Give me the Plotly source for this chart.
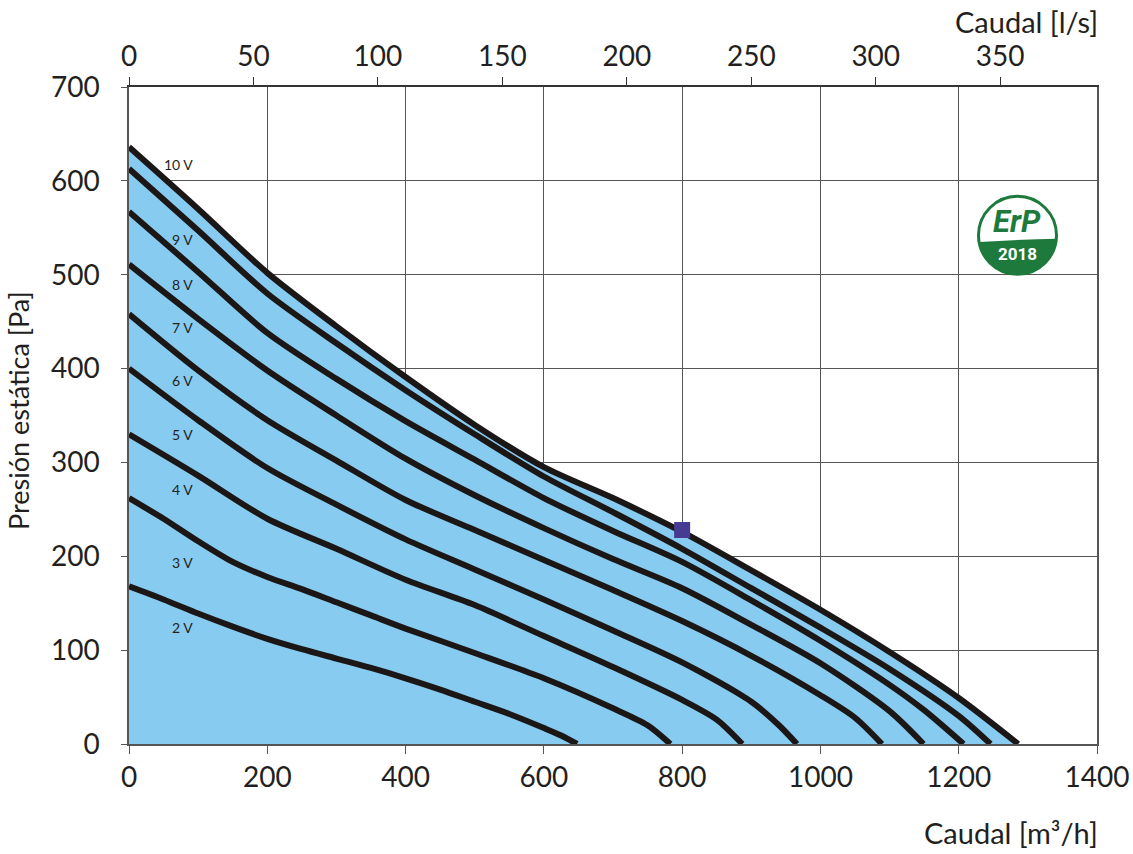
import math
import plotly.graph_objects as go

# caudal [m3/h] and presion estatica [Pa], one pair per control voltage
q_10v = [0, 100, 200, 300, 400, 500, 600, 700, 800, 900, 1000, 1100, 1200, 1286]
p_10v = [636, 570, 502, 445, 391, 340, 295, 262, 226, 185, 143, 98, 49, 0]

q_9v = [0, 100, 200, 300, 400, 500, 600, 700, 800, 900, 1000, 1100, 1200, 1246]
p_9v = [613, 547, 480, 427, 377, 330, 285, 247, 208, 166, 124, 80, 30, 0]

q_8v = [0, 100, 200, 300, 400, 500, 600, 700, 800, 900, 1000, 1100, 1150, 1207]
p_8v = [567, 503, 438, 389, 344, 303, 262, 227, 194, 153, 110, 63, 36, 0]

q_7v = [0, 100, 200, 300, 400, 500, 600, 700, 800, 900, 1000, 1100, 1149]
p_7v = [511, 453, 398, 350, 304, 265, 230, 197, 166, 127, 86, 35, 0]

q_6v = [0, 100, 200, 300, 400, 500, 600, 700, 800, 900, 1000, 1050, 1089]
p_6v = [458, 398, 345, 302, 260, 228, 196, 164, 131, 94, 52, 28, 0]

q_5v = [0, 100, 200, 300, 400, 500, 600, 700, 800, 900, 940, 966]
p_5v = [400, 345, 294, 255, 218, 186, 154, 121, 87, 45, 20, 0]

q_4v = [0, 100, 200, 300, 400, 500, 600, 700, 800, 850, 887]
p_4v = [330, 286, 240, 208, 175, 148, 115, 82, 47, 26, 0]

q_3v = [0, 50, 100, 150, 200, 250, 300, 350, 400, 500, 600, 700, 750, 783]
p_3v = [262, 240, 216, 194, 178, 165, 151, 137, 123, 97, 70, 38, 20, 0]

q_2v = [0, 50, 100, 150, 200, 250, 300, 350, 400, 450, 500, 550, 600, 625, 648]
p_2v = [168, 154, 139, 125, 112, 101, 91, 81, 70, 58, 45, 32, 17, 9, 0]

curve_names = ["10 V", "9 V", "8 V", "7 V", "6 V", "5 V", "4 V", "3 V", "2 V"]
curve_q = [q_10v, q_9v, q_8v, q_7v, q_6v, q_5v, q_4v, q_3v, q_2v]
curve_p = [p_10v, p_9v, p_8v, p_7v, p_6v, p_5v, p_4v, p_3v, p_2v]

# where each voltage label sits
label_q = [71, 78, 78, 78, 78, 78, 78, 78, 78]
label_p = [617, 537, 490, 444, 387, 330, 271, 193, 124]

# working point marker
point_q = [800]
point_p = [228]

x_ticks = [0, 200, 400, 600, 800, 1000, 1200, 1400]
y_ticks = [0, 100, 200, 300, 400, 500, 600, 700]
ls_ticks = [0, 50, 100, 150, 200, 250, 300, 350]

FONT = "Lato"
TXT = "#231f20"
GREEN = "#1d7a3c"

fig = go.Figure()

# blue area under the top curve
fig.add_trace(go.Scatter(x=q_10v, y=p_10v, mode="lines", fill="tozeroy",
                         fillcolor="#88cbf0", line=dict(width=0, shape="spline", smoothing=0.8),
                         hoverinfo="skip", showlegend=False))

for name, q, p in zip(curve_names, curve_q, curve_p):
    fig.add_trace(go.Scatter(x=q, y=p, mode="lines", name=name,
                             line=dict(color="#1c1717", width=6, shape="spline", smoothing=0.8),
                             showlegend=False))

fig.add_trace(go.Scatter(x=point_q, y=point_p, mode="markers",
                         marker=dict(symbol="square", size=16, color="#463b92"),
                         showlegend=False))

# dummy trace so the l/s axis gets drawn
fig.add_trace(go.Scatter(x=[0, 1400 / 3.6], y=[None, None], xaxis="x2",
                         mode="lines", showlegend=False, hoverinfo="skip"))

for name, q, p in zip(curve_names, label_q, label_p):
    fig.add_annotation(x=q, y=p, text=name, showarrow=False,
                       font=dict(family=FONT, size=14, color=TXT))

# ErP 2018 badge, drawn in pixels around an anchor point
logo_q, logo_p, r = 1285, 542, 39
fig.add_shape(type="circle", xref="x", yref="y", xsizemode="pixel", ysizemode="pixel",
              xanchor=logo_q, yanchor=logo_p, x0=-r, x1=r, y0=-r, y1=r,
              fillcolor="white", line=dict(color=GREEN, width=3), layer="above")
pts = []
for i in range(0, 41):
    a = math.radians(190 + i * (355 - 190) / 40)
    pts.append((r * math.cos(a), r * math.sin(a)))
path = "M %.1f,%.1f " % pts[0] + " ".join("L %.1f,%.1f" % pt for pt in pts[1:])
path += " Q 5,-4 %.1f,%.1f Z" % pts[0]
fig.add_shape(type="path", xref="x", yref="y", xsizemode="pixel", ysizemode="pixel",
              xanchor=logo_q, yanchor=logo_p, path=path,
              fillcolor=GREEN, line=dict(width=0), layer="above")
fig.add_annotation(x=logo_q, y=logo_p, yshift=14, text="<b><i>ErP</i></b>", showarrow=False,
                   font=dict(family="Roboto", size=31, color=GREEN))
fig.add_annotation(x=logo_q, y=logo_p, yshift=-19, text="<b>2018</b>", showarrow=False,
                   font=dict(family="Roboto", size=17, color="white"))

# axis titles
fig.add_annotation(xref="paper", yref="paper", x=1.003, y=-0.134, xanchor="right",
                   yanchor="middle", text="Caudal [m³/h]", showarrow=False,
                   font=dict(family=FONT, size=29, color=TXT))
fig.add_annotation(xref="paper", yref="paper", x=1.003, y=1.1, xanchor="right",
                   yanchor="middle", text="Caudal [l/s]", showarrow=False,
                   font=dict(family=FONT, size=29, color=TXT))
fig.add_annotation(xref="paper", yref="paper", x=-0.114, y=0.508, textangle=-90,
                   xanchor="center", yanchor="middle",
                   text="Presión estática [Pa]", showarrow=False,
                   font=dict(family=FONT, size=27, color=TXT))

grid = "#555555"
# margins are fixed: the "1400" label must not push the plot area inwards
fig.update_layout(
    width=1133, height=854,
    margin=dict(l=129, r=36, t=87, b=110, autoexpand=False),
    paper_bgcolor="white", plot_bgcolor="white",
    font=dict(family=FONT, size=28, color=TXT),
    xaxis=dict(range=[0, 1400], tickvals=x_ticks, showgrid=True, gridcolor=grid, gridwidth=1.2,
               zeroline=False, showline=True, linecolor=grid, linewidth=1.5, mirror=True,
               ticks="outside", ticklen=8, tickcolor=grid, ticklabeloverflow="allow",
               automargin=False),
    xaxis2=dict(range=[0, 1400 / 3.6], tickvals=ls_ticks, overlaying="x", side="top",
                anchor="y", showgrid=False, zeroline=False, showline=True, linecolor="#333",
                linewidth=1.5, ticks="outside", ticklen=8, tickcolor="#333", automargin=False),
    yaxis=dict(range=[0, 700], tickvals=y_ticks, showgrid=True, gridcolor=grid, gridwidth=1.2,
               zeroline=False, showline=True, linecolor=grid, linewidth=1.5, mirror=True,
               ticks="outside", ticklen=6, tickcolor=grid, ticklabelstandoff=16,
               automargin=False),
)

# no body margin, no scrollbars, fixed size: the figure fills the window exactly
page_fix = ("document.body.style.margin = '0';"
            "document.body.style.overflow = 'hidden';"
            "document.documentElement.style.overflow = 'hidden';")
fig.write_html("out.html", config={"displayModeBar": False, "responsive": False},
               post_script=page_fix)
